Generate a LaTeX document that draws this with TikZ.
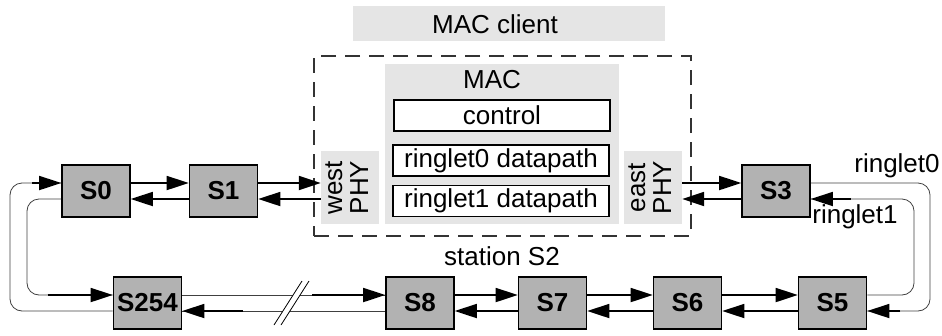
\documentclass[tikz,border=0pt]{standalone}
\usepackage{fontspec}
\usepackage{graphicx}
\setmainfont{Liberation Sans}
\usetikzlibrary{arrows.meta}

\begin{document}
\begin{tikzpicture}[x=1pt, y=-1pt,
  every node/.style={font=\fontsize{26}{26}\selectfont, inner sep=1pt},
  station/.style={draw, fill=gray!60, line width=1.6pt, minimum width=68pt,
    minimum height=52pt, font=\fontsize{26}{26}\selectfont\bfseries},
  shade/.style={fill=gray!20},
  part/.style={draw, fill=white, line width=1.4pt, minimum width=216pt, minimum height=31pt},
  link/.style={line width=1.8pt, -{Triangle[length=22pt, width=14pt]}},
  ringline/.style={line width=0.8pt, draw=black!75, rounded corners=12pt}]
  \useasboundingbox (0,0) rectangle (942,335);
  % station S2 with its MAC
  \node[shade, minimum width=312pt, minimum height=35pt] (clientbox) at (509,23.5) {};
  \node (client) at (495,24) {MAC client};
  \node[draw=black!80, line width=1.4pt, dash pattern=on 15pt off 9pt,
    minimum width=377pt, minimum height=180pt] (s2) at (502.5,146) {};
  \node[shade, minimum width=234pt, minimum height=160pt] (mac) at (502,144) {};
  \node (maclabel) at (492,80) {MAC};
  \node[part] (control) at (502,115.5) {control};
  \node[part] (dp0) at (501,160.5) {ringlet0 datapath};
  \node[part] (dp1) at (501,201) {ringlet1 datapath};
  \node[shade, minimum width=58pt, minimum height=73pt] (wphy) at (350,187.5)
    {\rotatebox{90}{\begin{tabular}{@{}c@{}}west\\PHY\end{tabular}}};
  \node[shade, minimum width=58pt, minimum height=73pt] (ephy) at (653,187.5)
    {\rotatebox{90}{\begin{tabular}{@{}c@{}}east\\PHY\end{tabular}}};
  \node (st) at (502,256) {station S2};

  % the other stations
  \node[station] (s0) at (96,191) {S0};
  \node[station] (s1) at (223.5,191) {S1};
  \node[station] (s3) at (776,191) {S3};
  \node[station] (s254) at (147.5,303) {S254};
  \node[station] (s8) at (420,303) {S8};
  \node[station] (s7) at (552.5,303) {S7};
  \node[station] (s6) at (687.5,303) {S6};
  \node[station] (s5) at (832.5,303) {S5};

  % top row
  \draw[link] ([yshift=8pt]s0.east) -- ([yshift=8pt]s1.west);
  \draw[link] ([yshift=-8pt]s1.west) -- ([yshift=-8pt]s0.east);
  \draw[link] ([yshift=8pt]s1.east) -- ([yshift=8pt]s1.east -| wphy.west);
  \draw[link] ([yshift=-8pt]s1.east -| wphy.west) -- ([yshift=-8pt]s1.east);
  \draw[link] ([yshift=8pt]s3.west -| ephy.east) -- ([yshift=8pt]s3.west);
  \draw[link] ([yshift=-8pt]s3.west) -- ([yshift=-8pt]s3.west -| ephy.east);

  % bottom row
  \foreach \a/\b in {s8/s7, s7/s6, s6/s5} {
    \draw[link] ([yshift=8pt]\a.east) -- ([yshift=8pt]\b.west);
    \draw[link] ([yshift=-8pt]\b.west) -- ([yshift=-8pt]\a.east);
  }
  \draw[ringline] ([yshift=8pt]s254.east) -- ([yshift=8pt]s8.west);
  \draw[link] ([yshift=8pt,xshift=-73pt]s8.west) -- ([yshift=8pt]s8.west);
  \draw[ringline] ([yshift=-8pt]s8.west) -- ([yshift=-8pt]s254.east);
  \draw[link] ([yshift=-8pt,xshift=61pt]s254.east) -- ([yshift=-8pt]s254.east);
  % break mark (stations left out)
  \fill[white] (274,325) -- (302,281) -- (309,281) -- (281,325) -- cycle;
  \draw[line width=0.8pt] (274,325) -- (302,281) (281,325) -- (309,281);

  % ring ends
  \draw[ringline] ([yshift=-8pt]s254.west) -| (10,240) |- ([yshift=8pt]s0.west);
  \draw[link] ([yshift=8pt,xshift=-29pt]s0.west) -- ([yshift=8pt]s0.west);
  \draw[ringline] ([yshift=-8pt]s0.west) -| (27,240) |- ([yshift=8pt]s254.west);
  \draw[link] ([yshift=8pt,xshift=-65pt]s254.west) -- ([yshift=8pt]s254.west);
  \draw[ringline] ([yshift=8pt]s3.east) -| (930,240) |- ([yshift=-8pt]s5.east);
  \draw[link] ([yshift=-8pt,xshift=33pt]s5.east) -- ([yshift=-8pt]s5.east);
  \draw[ringline] ([yshift=8pt]s5.east) -| (914,240) |- ([yshift=-8pt]s3.east);
  \draw[link] ([yshift=-8pt,xshift=40pt]s3.east) -- ([yshift=-8pt]s3.east);
  \node (r0) at (897,166) {ringlet0};
  \node (r1) at (855,217) {ringlet1};
\end{tikzpicture}
\end{document}
